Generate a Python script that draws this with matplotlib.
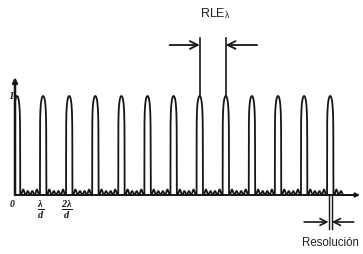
import numpy as np
import matplotlib
matplotlib.use("Agg")
import matplotlib.pyplot as plt

plt.rcParams['font.family'] = ['Liberation Sans', 'DejaVu Sans']
plt.rcParams['mathtext.fontset'] = 'custom'
plt.rcParams['mathtext.rm'] = 'Liberation Sans'
plt.rcParams['mathtext.it'] = 'Liberation Serif:italic:bold'
plt.rcParams['mathtext.bf'] = 'Liberation Serif:italic:bold'

# ---- data (x in units of lambda/d, y = relative intensity) ----
orders = list(range(13))                 # principal maxima 0 .. 12
peak_heights = [1.0] * 13                # all principal maxima equal
side_lobes = [0.055, 0.04, 0.04, 0.055]  # secondary maxima inside each gap
trailing_lobes = [0.055, 0.04]           # secondary maxima after last peak
rle_orders = [7, 8]                      # peaks marked by RLE arrows
res_order = 12                           # peak marked by "Resolución"
tick_orders = [0, 1, 2]
tick_labels = ['0', r'$\mathbf{\frac{\lambda}{d}}$', r'$\mathbf{\frac{2\lambda}{d}}$']

# ---- rendering ----
W, H = 363, 254
fig = plt.figure(figsize=(W / 100, H / 100), dpi=100)
ax = fig.add_axes([0, 0, 1, 1])
ax.set_axis_off()
px_per_order = 26.1
px_per_I = 99.0
x0_px, y0_px = 17.0, 195.0
ax.set_xlim(-x0_px / px_per_order, (W - x0_px) / px_per_order)
ax.set_ylim(-(H - y0_px) / px_per_I, y0_px / px_per_I)

hw = 0.12  # half width of principal lobe (order units)
axis_x = -2.0 / px_per_order
x = np.linspace(axis_x, 12.9, 10000)
y = np.zeros_like(x)

def add_peak(c, h):
    u = np.abs(x - c) / hw
    m = u < 1
    y[m] += h * (1 - u[m] ** 2) ** 0.12

def add_lobes(start, heights, width):
    for i, h in enumerate(heights):
        a = start + i * width
        m = (x >= a) & (x <= a + width)
        y[m] += h * np.sin(np.pi * (x[m] - a) / width) ** 2

gap_w = (1 - 2 * hw - 0.06) / len(side_lobes)
for k, h in zip(orders, peak_heights):
    add_peak(k, h)
    if k < orders[-1]:
        add_lobes(k + hw + 0.03, side_lobes, gap_w)
add_lobes(orders[-1] + hw + 0.03, trailing_lobes, gap_w)

col = '#161616'
ax.plot(x, y, color=col, lw=1.3, solid_capstyle='round')

# axes with arrows
ax.annotate('', xy=(343 / px_per_order, 0), xytext=(axis_x, 0),
            arrowprops=dict(arrowstyle='-|>', lw=1.4, color=col, mutation_scale=6,
                            shrinkA=0, shrinkB=0))
ax.annotate('', xy=(axis_x, 1.19), xytext=(axis_x, 0),
            arrowprops=dict(arrowstyle='-|>', lw=1.8, color=col, mutation_scale=7,
                            shrinkA=0, shrinkB=0))

# axis labels
ax.text(axis_x - 0.15, 0.99, 'I', fontsize=7, family='Liberation Serif', style='italic',
        weight='bold', ha='center', va='center', color=col)
for k, lab in zip(tick_orders, tick_labels):
    if k == 0:
        ax.text(k - 0.17, -0.10, lab, fontsize=7, family='Liberation Serif',
                style='italic', weight='bold', ha='center', va='center', color=col)
    else:
        ax.text(k - 0.08, -0.145, lab, fontsize=10.5, ha='center', va='center', color=col)

# RLE annotation
top = (y0_px - 38) / px_per_I
arr_y = (y0_px - 45) / px_per_I
for k in rle_orders:
    ax.plot([k, k], [1.0, top], color=col, lw=1.2)
ax.annotate('', xy=(rle_orders[0], arr_y), xytext=(rle_orders[0] - 1.15, arr_y),
            arrowprops=dict(arrowstyle='->', lw=1.3, color=col, mutation_scale=14,
                            shrinkA=0, shrinkB=0))
ax.annotate('', xy=(rle_orders[1], arr_y), xytext=(rle_orders[1] + 1.2, arr_y),
            arrowprops=dict(arrowstyle='->', lw=1.3, color=col, mutation_scale=14,
                            shrinkA=0, shrinkB=0))
ax.text((rle_orders[0] + rle_orders[1]) / 2 + 0.1, (y0_px - 14) / px_per_I,
        r'RLE$_\mathrm{\lambda}$', fontsize=9, ha='center', va='center', color='#222')

# Resolución annotation
d = 0.065
bot = (y0_px - 229) / px_per_I
arr_y2 = (y0_px - 222) / px_per_I
for xx in (res_order - d, res_order + d):
    ax.plot([xx, xx], [0, bot], color=col, lw=1.0)
ax.annotate('', xy=(res_order - d, arr_y2), xytext=(res_order - 1.0, arr_y2),
            arrowprops=dict(arrowstyle='->', lw=1.2, color=col, mutation_scale=12,
                            shrinkA=0, shrinkB=0))
ax.annotate('', xy=(res_order + d, arr_y2), xytext=(res_order + 0.9, arr_y2),
            arrowprops=dict(arrowstyle='->', lw=1.2, color=col, mutation_scale=12,
                            shrinkA=0, shrinkB=0))
ax.text(res_order, (y0_px - 243) / px_per_I, 'Resolución', fontsize=8.3,
        ha='center', va='center', color='#222')

fig.savefig('out.png', dpi=100)
